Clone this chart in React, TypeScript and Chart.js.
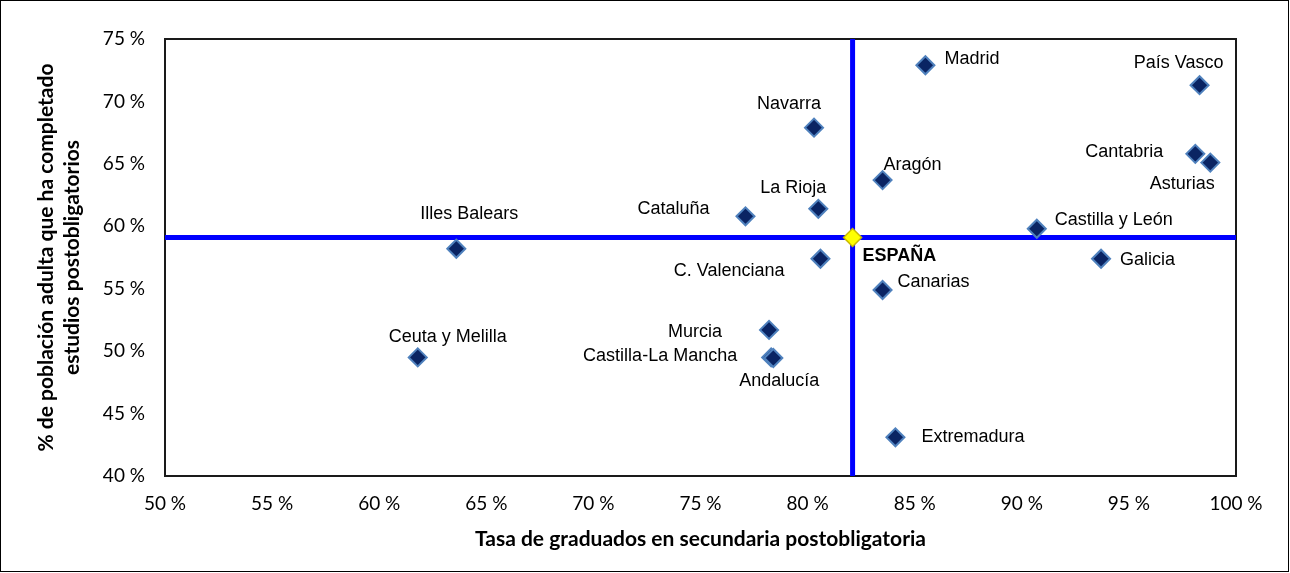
import React, { useEffect, useRef } from 'react';
import { Chart, registerables } from 'chart.js';

Chart.register(...registerables);

// ---- Data ----
const regions = [
  'Madrid', 'País Vasco', 'Navarra', 'Aragón', 'Cantabria', 'Asturias',
  'La Rioja', 'Cataluña', 'Castilla y León', 'Illes Balears', 'C. Valenciana',
  'Galicia', 'Canarias', 'Murcia', 'Castilla-La Mancha', 'Andalucía',
  'Ceuta y Melilla', 'Extremadura',
];
// Tasa de graduados en secundaria postobligatoria (%)
const graduationRate = [
  85.5, 98.3, 80.3, 83.5, 98.1, 98.8,
  80.5, 77.1, 90.7, 63.6, 80.6,
  93.7, 83.5, 78.2, 78.3, 78.4,
  61.8, 84.1,
];
// % de población adulta que ha completado estudios postobligatorios
const adultCompletion = [
  72.9, 71.3, 67.9, 63.7, 65.8, 65.1,
  61.4, 60.8, 59.8, 58.2, 57.4,
  57.4, 54.9, 51.7, 49.5, 49.45,
  49.5, 43.1,
];
const spainLabel = 'ESPAÑA';
const spainRate = 82.1;
const spainCompletion = 59.1;

const xRange = [50, 100];
const yRange = [40, 75];
const tickStep = 5;

const xTitle = 'Tasa de graduados en secundaria postobligatoria';
const yTitle = ['% de población adulta que ha completado', 'estudios postobligatorios'];

// ---- Label placement (pixel offsets from marker, alignment) ----
const labelPlacement: Record<string, [number, number, CanvasTextAlign]> = {
  'Madrid': [19, -6, 'left'],
  'País Vasco': [-21, -22, 'center'],
  'Navarra': [-25, -24, 'center'],
  'Aragón': [1, -15, 'left'],
  'Cantabria': [-32, -2, 'right'],
  'Asturias': [-28, 21, 'center'],
  'La Rioja': [-25, -21, 'center'],
  'Cataluña': [-36, -7, 'right'],
  'Castilla y León': [18, -9, 'left'],
  'Illes Balears': [13, -35, 'center'],
  'C. Valenciana': [-36, 12, 'right'],
  'Galicia': [19, 1, 'left'],
  'Canarias': [15, -8, 'left'],
  'Murcia': [-47, 2, 'right'],
  'Castilla-La Mancha': [-34, -1, 'right'],
  'Andalucía': [6, 23, 'center'],
  'Ceuta y Melilla': [30, -20, 'center'],
  'Extremadura': [26, 0, 'left'],
  'ESPAÑA': [10, 19, 'left'],
};

const W = 1290;
const H = 573;
const LABEL_FONT = '"Liberation Sans", Arial, sans-serif';
const AXIS_FONT = 'Lato, "Open Sans", sans-serif';

const framePlugin = {
  id: 'frames',
  beforeDraw(chart: any) {
    const { ctx } = chart;
    ctx.save();
    ctx.fillStyle = '#ffffff';
    ctx.fillRect(0, 0, chart.width, chart.height);
    ctx.strokeStyle = '#000000';
    ctx.lineWidth = 1;
    ctx.strokeRect(0.5, 0.5, chart.width - 2, chart.height - 2);
    ctx.restore();
  },
  beforeDatasetsDraw(chart: any) {
    const { ctx, chartArea: a } = chart;
    ctx.save();
    ctx.strokeStyle = '#1a1a1a';
    ctx.lineWidth = 2;
    ctx.strokeRect(a.left, a.top, a.right - a.left, a.bottom - a.top);
    ctx.restore();
  },
};

const labelPlugin = {
  id: 'pointLabels',
  afterDatasetsDraw(chart: any) {
    const { ctx } = chart;
    const xs = chart.scales.x;
    const ys = chart.scales.y;
    ctx.save();
    ctx.fillStyle = '#000000';
    ctx.textBaseline = 'middle';
    const draw = (name: string, x: number, y: number, bold: boolean) => {
      const p = labelPlacement[name] || [12, 0, 'left'];
      ctx.font = `${bold ? 'bold ' : ''}18px ${LABEL_FONT}`;
      ctx.textAlign = p[2];
      ctx.fillText(name, xs.getPixelForValue(x) + p[0], ys.getPixelForValue(y) + p[1]);
    };
    regions.forEach((r, i) => draw(r, graduationRate[i], adultCompletion[i], false));
    draw(spainLabel, spainRate, spainCompletion, true);
    ctx.restore();
  },
};

export default function App() {
  const ref = useRef<HTMLCanvasElement>(null);

  useEffect(() => {
    document.body.style.margin = '0';
    const canvas = ref.current!;
    const chart = new Chart(canvas, {
      type: 'scatter',
      data: {
        datasets: [
          {
            label: 'Comunidades autónomas',
            data: regions.map((_, i) => ({ x: graduationRate[i], y: adultCompletion[i] })),
            pointStyle: 'rectRot',
            pointRadius: 9,
            pointHoverRadius: 9,
            pointBackgroundColor: '#0a2463',
            pointBorderColor: '#4f81bd',
            pointBorderWidth: 2,
            clip: false,
          } as any,
          {
            label: spainLabel,
            data: [{ x: spainRate, y: spainCompletion }],
            pointStyle: 'rectRot',
            pointRadius: 9,
            pointHoverRadius: 9,
            pointBackgroundColor: '#ffff00',
            pointBorderColor: '#c9b800',
            pointBorderWidth: 1.5,
            clip: false,
          } as any,
          {
            label: 'España (graduados)',
            data: [{ x: spainRate, y: yRange[0] }, { x: spainRate, y: yRange[1] }],
            showLine: true,
            borderColor: '#0000ff',
            borderWidth: 5,
            pointRadius: 0,
            pointHoverRadius: 0,
          } as any,
          {
            label: 'España (población adulta)',
            data: [{ x: xRange[0], y: spainCompletion }, { x: xRange[1], y: spainCompletion }],
            showLine: true,
            borderColor: '#0000ff',
            borderWidth: 5,
            pointRadius: 0,
            pointHoverRadius: 0,
          } as any,
        ],
      },
      options: {
        responsive: false,
        animation: false,
        devicePixelRatio: 1,
        layout: { padding: { left: 0, top: 39, right: W - 1236, bottom: 0 } },
        plugins: {
          legend: { display: false },
          tooltip: { enabled: false },
        },
        scales: {
          x: {
            type: 'linear',
            min: xRange[0],
            max: xRange[1],
            afterFit: (s: any) => { s.height = 97; },
            grid: { display: false, drawTicks: false, tickLength: 0 },
            border: { display: false },
            ticks: {
              stepSize: tickStep,
              padding: 16,
              color: '#000000',
              font: { family: AXIS_FONT, size: 19 },
              callback: (v: any) => `${v} %`,
            },
            title: {
              display: true,
              text: xTitle,
              color: '#000000',
              font: { family: AXIS_FONT, size: 21, weight: 'bold' },
              padding: { top: 0, bottom: 21 },
            },
          },
          y: {
            type: 'linear',
            min: yRange[0],
            max: yRange[1],
            afterFit: (s: any) => { s.width = 165; },
            grid: { display: false, drawTicks: false, tickLength: 0 },
            border: { display: false },
            ticks: {
              stepSize: tickStep,
              padding: 20,
              color: '#000000',
              font: { family: AXIS_FONT, size: 19 },
              callback: (v: any) => `${v} %`,
            },
            title: {
              display: true,
              text: yTitle,
              color: '#000000',
              font: { family: AXIS_FONT, size: 21, weight: 'bold' },
              padding: { top: 34, bottom: 0 },
            },
          },
        },
      } as any,
      plugins: [framePlugin, labelPlugin],
    });
    return () => chart.destroy();
  }, []);

  return (
    <div style={{ width: W, height: H }}>
      <canvas ref={ref} width={W} height={H} style={{ display: 'block', width: W, height: H }} />
    </div>
  );
}
